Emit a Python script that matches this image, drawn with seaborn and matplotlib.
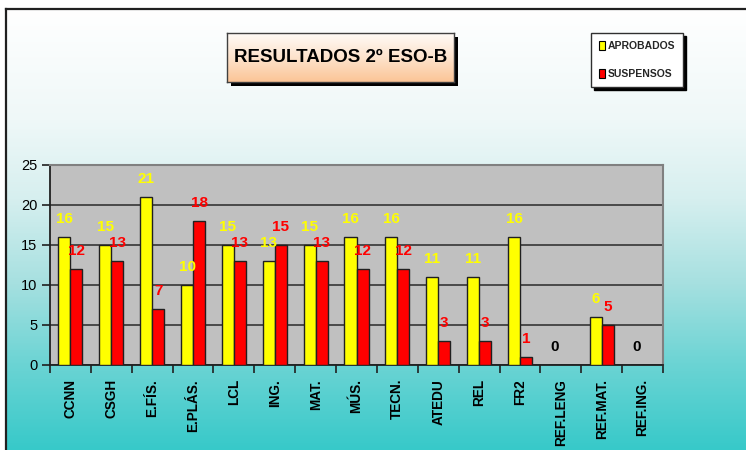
import numpy as np
import pandas as pd
import matplotlib
matplotlib.use("Agg")
import matplotlib.pyplot as plt
from matplotlib.patches import Rectangle
from matplotlib.colors import LinearSegmentedColormap
import seaborn as sns

categories = ["CCNN", "CSGH", "E.FÍS.", "E.PLÁS.", "LCL", "ING.", "MAT.", "MÚS.",
              "TECN.", "ATEDU", "REL", "FR2", "REF.LENG", "REF.MAT.", "REF.ING."]
aprobados = [16, 15, 21, 10, 15, 13, 15, 16, 16, 11, 11, 16, 0, 6, 0]
suspensos = [12, 13, 7, 18, 13, 15, 13, 12, 12, 3, 3, 1, 0, 5, 0]
series_names = ["APROBADOS", "SUSPENSOS"]
yticks = [0, 5, 10, 15, 20, 25]
title = "RESULTADOS 2º ESO-B"

sns.set_theme(style="white")
FONT = ["Liberation Sans", "DejaVu Sans"]
plt.rcParams["font.family"] = FONT

W, H = 746, 450
fig = plt.figure(figsize=(W / 100, H / 100), dpi=100)
fig.patch.set_facecolor("white")

def px(x0, y0, x1, y1):
    return [x0 / W, 1 - y1 / H, (x1 - x0) / W, (y1 - y0) / H]

# background gradient with outer frame
bg = fig.add_axes(px(6, 9, W + 2, H + 2), zorder=0)
stops = [(0.0, "#FFFFFF"), (0.25, "#EFF8F8"), (0.43, "#D6EFEF"),
         (0.62, "#A6E0E0"), (0.80, "#6CD4D4"), (1.0, "#36C9C9")]
cmap = LinearSegmentedColormap.from_list("bg", stops)
bg.imshow(np.linspace(0, 1, 256).reshape(-1, 1), aspect="auto", cmap=cmap,
          extent=[0, 1, 1, 0])
bg.set_xlim(0, 1); bg.set_ylim(1, 0)
bg.set_xticks([]); bg.set_yticks([])
for s in bg.spines.values():
    s.set_color("#202020"); s.set_linewidth(1.6)

# data
df = pd.DataFrame({
    "Asignatura": categories * 2,
    "Valor": aprobados + suspensos,
    "Serie": [series_names[0]] * len(categories) + [series_names[1]] * len(categories),
})

ax = fig.add_axes(px(50, 165, 663, 365), zorder=2)
ax.set_facecolor("#C0C0C0")
sns.barplot(data=df, x="Asignatura", y="Valor", hue="Serie", order=categories,
            hue_order=series_names, palette=["#FFFF00", "#FF0000"], width=0.59,
            saturation=1, edgecolor="#202020", linewidth=1, ax=ax,
            legend=False, zorder=3)
ax.set_ylim(0, 25)
ax.set_xlim(-0.5, len(categories) - 0.5)
ax.set_yticks(yticks)
ax.set_yticklabels([str(v) for v in yticks], fontsize=10.5, color="black")
ax.yaxis.grid(True, color="#404040", linewidth=1.3, zorder=1)
ax.set_axisbelow(True)
ax.set_xlabel(""); ax.set_ylabel("")
ax.set_xticks(range(len(categories)))
ax.set_xticklabels(categories, rotation=90, fontsize=9.8, fontweight="bold",
                   color="black")
ax.tick_params(axis="x", which="major", length=0, pad=10)
ax.set_xticks(np.arange(-0.5, len(categories), 1), minor=True)
ax.tick_params(axis="x", which="minor", length=6, width=1.2, color="#202020",
               direction="out", bottom=True)
ax.tick_params(axis="y", length=6, width=1.2, color="#202020", direction="out",
               left=True, pad=3)
for side in ["left", "bottom"]:
    ax.spines[side].set_color("#202020"); ax.spines[side].set_linewidth(1.3)
ax.spines["top"].set_color("#808080"); ax.spines["top"].set_linewidth(1.5)
ax.spines["right"].set_color("#808080"); ax.spines["right"].set_linewidth(1.5)

# value labels
c_apr, c_sus = ax.containers[0], ax.containers[1]
t1 = ax.bar_label(c_apr, labels=[str(v) for v in aprobados], padding=8,
                  color="#FFFF00", fontsize=11, fontweight="bold")
for t, v in zip(t1, aprobados):
    if v == 0:
        t.set_color("black")
ax.bar_label(c_sus, labels=[str(v) if v else "" for v in suspensos], padding=8,
             color="#FF0000", fontsize=11, fontweight="bold")

# title box with shadow and gradient
fig.patches.append(Rectangle((231 / W, 1 - 86 / H), 227 / W, 49 / H,
                             transform=fig.transFigure, facecolor="black",
                             edgecolor="none", zorder=3))
tax = fig.add_axes(px(227, 33, 454, 82), zorder=4)
tcm = LinearSegmentedColormap.from_list("t", ["#FFFAF6", "#FDE3CC", "#FBC597"])
tax.imshow(np.linspace(0, 1, 64).reshape(-1, 1), aspect="auto", cmap=tcm,
           extent=[0, 1, 1, 0])
tax.set_xlim(0, 1); tax.set_ylim(1, 0)
tax.set_xticks([]); tax.set_yticks([])
for s in tax.spines.values():
    s.set_color("#404040"); s.set_linewidth(1)
tax.text(0.5, 0.5, title, ha="center", va="center", fontsize=13.5,
         fontweight="bold", color="black", transform=tax.transAxes)

# legend
handles = [Rectangle((0, 0), 1, 1, facecolor=c, edgecolor="black", linewidth=0.8)
           for c in ["#FFFF00", "#FF0000"]]
leg = fig.legend(handles, series_names, loc="upper left",
                 bbox_to_anchor=(591 / W, 1 - 33 / H), frameon=True,
                 fancybox=False, edgecolor="#303030", framealpha=1,
                 facecolor="white", borderpad=0.75, labelspacing=1.75,
                 handlelength=0.6, handleheight=0.9, handletextpad=0.25,
                 borderaxespad=0, shadow={"color": "black", "alpha": 1},
                 prop={"weight": "bold", "size": 7.5})
leg.get_frame().set_linewidth(1)
leg.set_zorder(5)

fig.savefig("out.png", dpi=100)
